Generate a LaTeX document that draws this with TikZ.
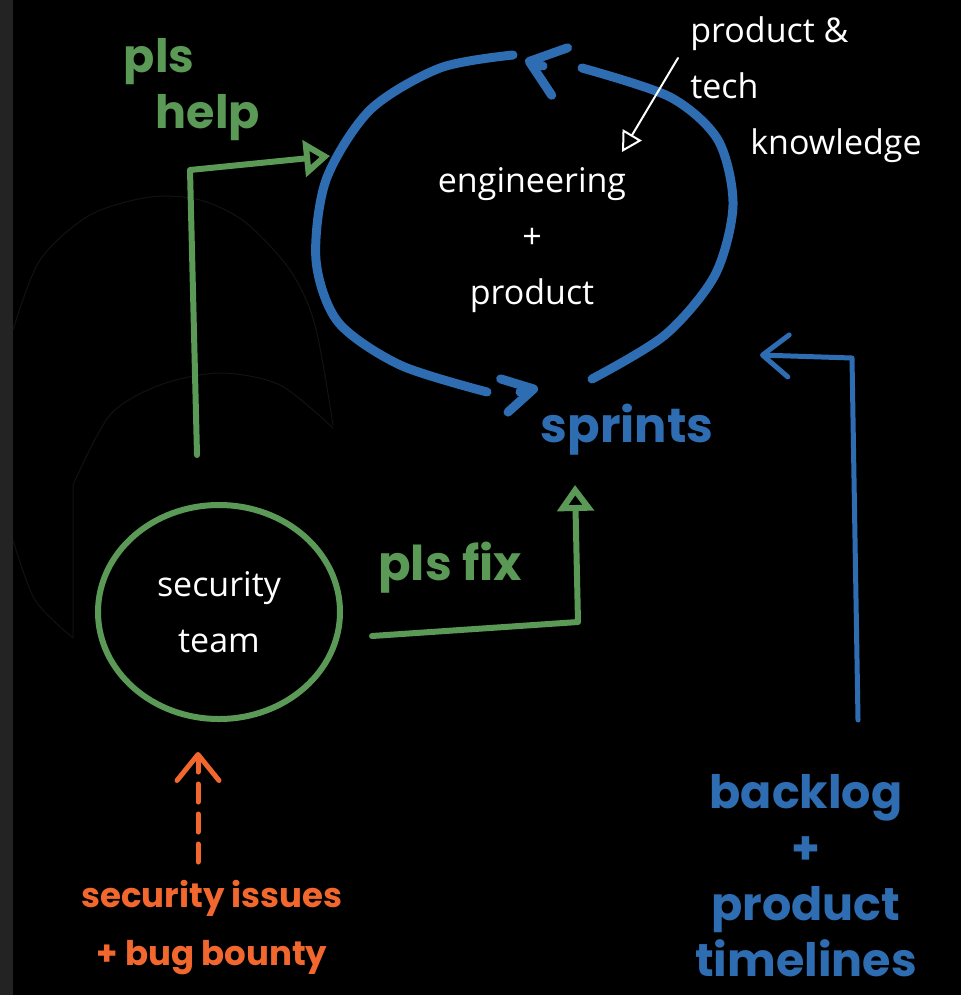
\documentclass[tikz,border=0pt]{standalone}
\usepackage{fontspec}
\setmainfont{Open Sans}
\newfontfamily\marker{Poppins}
\usetikzlibrary{arrows.meta,positioning,shapes.geometric}

\definecolor{loopblue}{HTML}{2F6DB3}
\definecolor{secgreen}{HTML}{5B9A56}
\definecolor{bugorange}{HTML}{F2672E}
\definecolor{strip}{HTML}{232323}
\definecolor{ghost}{HTML}{121212}

\begin{document}
\begin{tikzpicture}[x=0.5pt, y=-0.5pt, line cap=round, line join=round, >=Stealth,
  ink/.style={text=white, font=\fontsize{17}{28}\selectfont, align=center},
  tag/.style={font=\marker\bfseries\fontsize{23}{28}\selectfont, align=center},
  flow/.style={draw=secgreen, line width=3pt},
  loop/.style={draw=loopblue, line width=4.5pt},
  opentip/.style={-{Triangle[open, length=13pt, width=18pt]}},
  barb/.style={-{Straight Barb[round, length=13pt, width=21pt]}}]
% canvas
\fill[black] (0,0) rectangle (961,995);
\fill[strip] (0,0) rectangle (13,995);
\draw[ghost, line width=0.5pt] plot[smooth] coordinates {(13,330) (40,260) (90,215) (150,197) (200,200) (245,222) (290,270) (315,325) (333,425)};
\draw[ghost, line width=0.5pt] plot[smooth] coordinates {(13,540) (35,600) (73,638)} -- (73,485);
\draw[ghost, line width=0.5pt] plot[smooth] coordinates {(73,485) (110,415) (160,385) (220,373) (280,385) (333,428)};

% nodes
\node[ink] (eng) at (532,240) {engineering\\+\\product};
\node[tag, text=loopblue, font=\marker\bfseries\fontsize{24}{28}\selectfont] (sprints) at (627,430) {sprints};
\node[ink, draw=secgreen, line width=3pt, ellipse, minimum width=121pt, minimum height=107pt] (sec) at (219,612) {security\\team};
\node[tag, text=secgreen, align=left] (help) at (192,90) {pls\\\hspace*{16pt}help};
\node[tag, text=secgreen, font=\marker\bfseries\fontsize{24}{28}\selectfont] (fix) at (450,568) {pls fix};
\node[tag, text=bugorange, font=\marker\bfseries\fontsize{17}{29}\selectfont] (bounty) at (212,928) {security issues\\+ bug bounty};
\node[tag, text=loopblue] (backlog) at (806,876) {backlog\\+\\product\\timelines};
\node[ink, align=left] (know) at (806,90) {product \&\\tech\\\hspace*{30pt}knowledge};

% loose ends
\coordinate (helpout) at (197,455);
\coordinate (helpin) at (330,156);
\coordinate (fixout) at (372,636);
\coordinate (fixin) at (575,485);
\coordinate (bugout) at (198,862);
\coordinate (bugin) at (198,752);
\coordinate (logout) at (858,720);
\coordinate (login) at (760,355);
\coordinate (knowout) at (678,58);
\coordinate (knowin) at (622,152);

% the sprint loop, heads drawn apart from the strokes
\draw[loop] plot[smooth] coordinates {(513,55) (440,68) (370,110) (326,180) (316,260) (338,322) (400,365) (487,392)};
\draw[loop] plot[smooth] coordinates {(592,379) (665,335) (715,275) (733,205) (718,140) (670,97) (582,68)};
\draw[loop, -{Straight Barb[round, length=15pt, width=17pt]}] (520,392) -- (538,388);
\draw[loop, -{Straight Barb[round, length=16pt, width=25pt]}] (543,66) -- (525,60);

% arrows
\draw[flow, opentip] (helpout) -- (190,170) -- (helpin);
\draw[flow, opentip] (fixout) -- (578,622) -- (fixin);
\draw[bugorange, line width=2.5pt, dash pattern=on 9pt off 6pt, barb] (bugout) -- (bugin);
\draw[loopblue, line width=2.5pt, barb] (logout) -- (852,358) -- (login);
\draw[white, line width=1pt, -{Triangle[open, length=10pt, width=11pt]}] (knowout) -- (knowin);
\end{tikzpicture}
\end{document}
